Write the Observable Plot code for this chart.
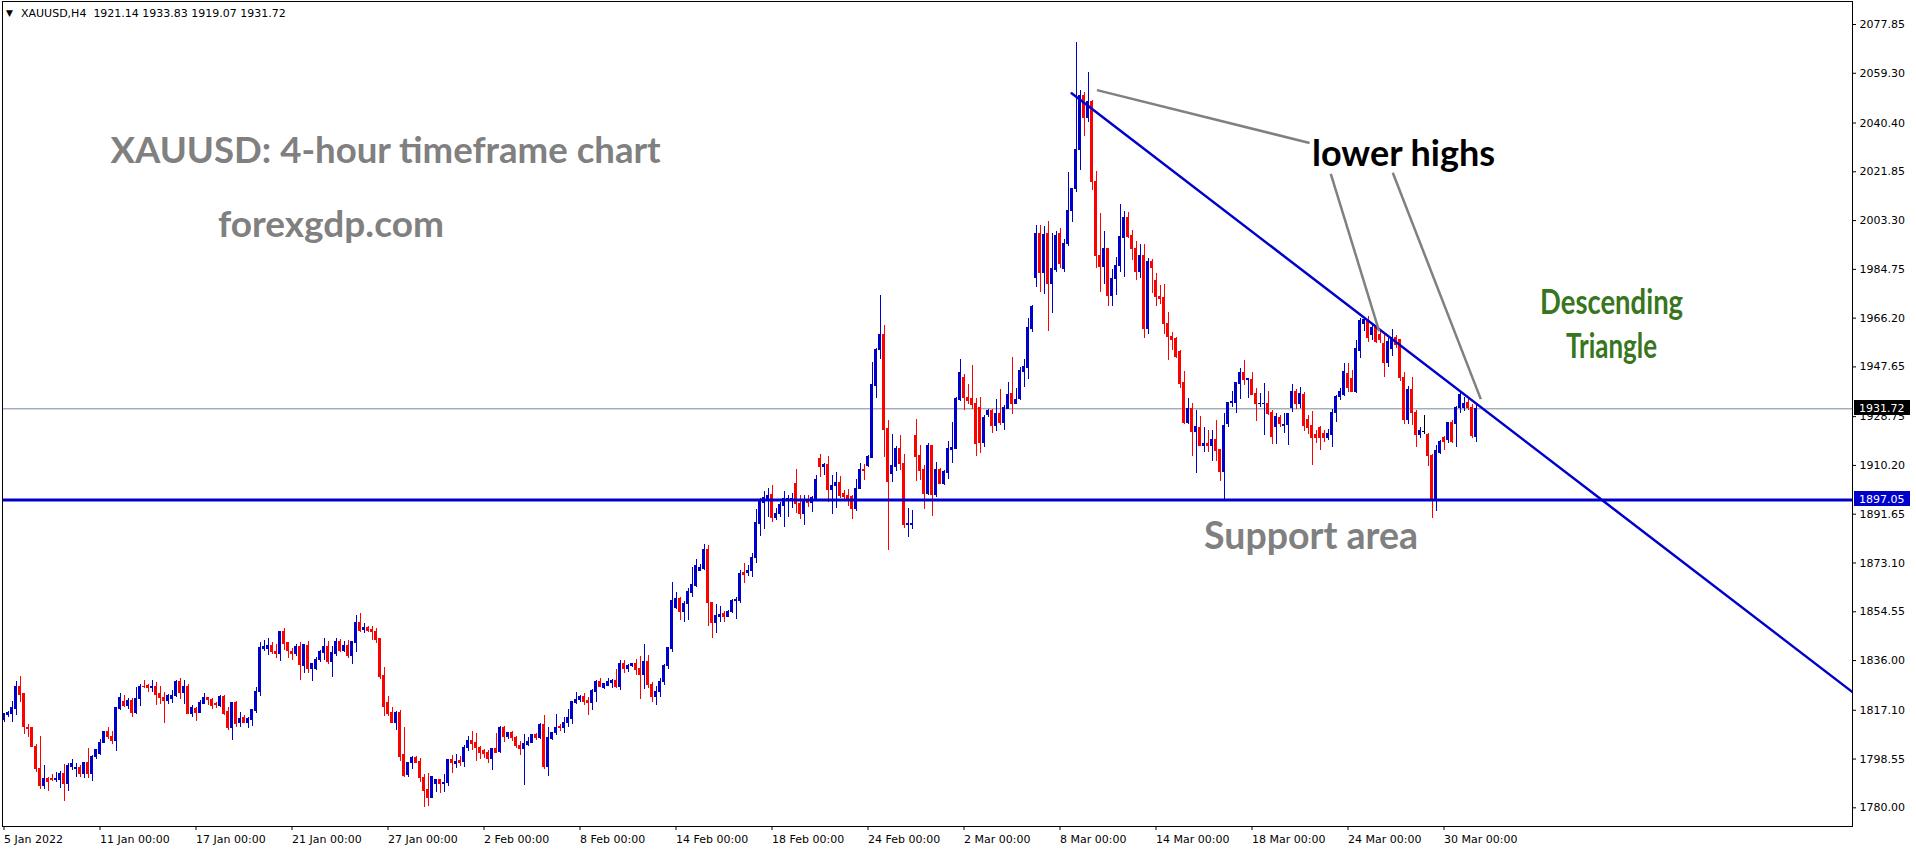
<!DOCTYPE html>
<html><head><meta charset="utf-8">
<script src="https://cdn.jsdelivr.net/npm/d3@7"></script>
<script src="https://cdn.jsdelivr.net/npm/@observablehq/plot@0.6"></script>
<style>
html,body{margin:0;padding:0;background:#fff;}
#chart{position:relative;width:1916px;height:850px;overflow:hidden}
svg{display:block}
</style></head><body><div id="chart"></div>
<script>
// ---- data (XAUUSD H4, 5 Jan 2022 – 31 Mar 2022), one entry per candle ----
const opens = [
1813.4,1815.2,1815.5,1817.5,1825.8,1823.1,1810.5,1810.2,1803.3,1794.9,
1788.2,1791.1,1791.1,1790.4,1790.5,1793.0,1789.0,1795.7,1794.7,1795.0,
1792.8,1796.9,1792.8,1799.3,1800.3,1804.6,1808.8,1807.1,1805.4,1817.4,
1820.4,1818.9,1820.8,1816.2,1821.3,1826.1,1826.3,1825.5,1826.1,1823.2,
1821.8,1820.7,1821.3,1822.5,1827.9,1823.6,1825.8,1815.6,1817.4,1816.0,
1819.4,1821.6,1821.1,1819.5,1818.7,1822.3,1816.4,1810.3,1819.7,1812.2,
1814.2,1812.2,1813.3,1816.8,1824.0,1840.3,1840.3,1841.7,1839.4,1838.4,
1846.7,1842.5,1839.4,1838.4,1841.3,1833.9,1841.6,1832.7,1832.7,1836.2,
1838.8,1841.3,1835.3,1838.4,1843.2,1839.8,1841.7,1837.9,1842.6,1850.1,
1847.5,1848.2,1847.8,1847.0,1844.1,1830.3,1820.0,1815.9,1812.4,1816.2,
1799.9,1792.3,1797.2,1798.8,1797.6,1791.5,1786.6,1783.9,1789.0,1790.4,
1789.0,1789.4,1798.1,1796.6,1797.7,1797.4,1802.7,1805.6,1804.6,1802.9,
1801.5,1800.8,1798.5,1802.2,1801.2,1810.3,1806.9,1808.6,1806.7,1803.4,
1802.2,1803.7,1804.6,1807.6,1806.5,1811.4,1795.5,1806.0,1808.4,1810.9,
1810.4,1812.4,1813.7,1819.8,1821.1,1822.3,1820.6,1819.8,1824.0,1827.7,
1825.6,1826.5,1827.4,1828.2,1825.9,1834.6,1832.7,1833.9,1834.6,1832.7,
1830.4,1835.3,1826.6,1822.0,1824.0,1828.0,1834.0,1840.3,1855.8,1859.5,
1854.3,1857.4,1861.6,1864.5,1870.2,1870.7,1878.2,1857.8,1850.2,1852.5,
1853.8,1852.5,1854.3,1858.6,1858.6,1869.4,1869.4,1869.9,1874.9,1888.0,
1895.8,1897.5,1899.0,1890.3,1891.8,1894.7,1897.0,1897.0,1903.3,1895.7,
1891.7,1897.1,1896.0,1897.4,1912.5,1909.5,1910.5,1900.9,1902.2,1903.7,
1899.5,1898.4,1898.1,1893.6,1901.3,1908.6,1909.9,1913.2,1940.3,1953.9,
1959.6,1924.2,1907.0,1909.5,1916.6,1910.8,1887.4,1887.4,1921.2,1913.7,
1908.3,1899.4,1917.4,1899.1,1908.6,1903.2,1907.4,1916.2,1916.5,1934.9,
1943.6,1936.0,1935.3,1933.4,1932.1,1918.7,1929.2,1930.8,1925.1,1929.6,
1926.3,1931.7,1937.2,1933.6,1935.3,1945.7,1947.2,1962.0,1981.4,1998.3,
1983.5,1998.3,1979.2,1984.6,1998.3,1984.9,1994.4,2006.8,2015.4,2030.2,
2050.6,2042.4,2048.5,2018.0,1990.0,1985.6,1992.3,1974.8,1981.1,1986.0,
1996.7,2004.1,1997.4,1992.6,1983.7,1990.0,1961.9,1987.4,1980.5,1974.4,
1973.8,1964.0,1959.2,1958.1,1953.5,1941.5,1926.3,1931.7,1922.9,1924.5,
1917.7,1918.3,1917.4,1920.0,1915.9,1907.6,1925.8,1933.9,1934.1,1941.2,
1945.3,1942.6,1942.5,1937.2,1933.4,1933.4,1933.6,1930.1,1924.8,1928.3,
1925.3,1925.6,1932.0,1938.1,1933.4,1937.1,1927.3,1925.2,1921.8,1924.6,
1922.3,1920.8,1921.8,1930.0,1936.1,1936.8,1944.9,1942.9,1938.1,1953.8,
1964.0,1965.3,1959.8,1962.5,1959.8,1956.5,1949.0,1954.4,1958.5,1957.8,
1943.6,1927.3,1938.8,1930.0,1921.8,1922.9,1921.8,1913.7,1897.4,1915.1,
1920.8,1919.8,1926.2,1925.9,1932.0,1932.0,1933.8,1932.0,1921.14];
const highs = [
1815.5,1816.7,1820.3,1828.0,1830.1,1823.3,1811.7,1810.2,1803.9,1807.1,
1796.1,1791.5,1792.5,1793.3,1793.8,1796.5,1797.0,1798.5,1797.0,1796.2,
1797.2,1802.6,1799.9,1802.3,1805.9,1809.2,1810.5,1809.0,1818.3,1823.5,
1822.7,1821.6,1821.4,1825.9,1827.0,1828.4,1827.0,1828.4,1827.7,1826.1,
1823.9,1823.2,1824.6,1828.4,1829.2,1828.3,1826.9,1818.9,1818.0,1820.8,
1823.5,1821.9,1821.7,1820.0,1822.7,1822.7,1818.2,1820.0,1820.3,1816.2,
1815.1,1814.5,1817.5,1825.8,1842.9,1843.6,1844.4,1842.9,1842.2,1847.0,
1848.2,1843.0,1840.5,1842.1,1842.9,1842.2,1843.2,1834.5,1837.3,1839.8,
1844.4,1843.2,1841.3,1844.3,1843.9,1843.2,1843.6,1843.4,1853.1,1853.9,
1850.1,1848.9,1848.9,1848.2,1844.4,1833.4,1822.3,1818.1,1816.6,1817.0,
1810.5,1797.4,1799.5,1799.5,1798.8,1792.7,1793.0,1791.9,1790.9,1790.4,
1792.7,1798.4,1799.9,1800.4,1799.6,1803.7,1807.1,1809.0,1808.4,1803.4,
1802.0,1801.8,1802.7,1808.4,1811.1,1811.1,1808.6,1809.1,1807.2,1805.4,
1808.0,1806.9,1807.6,1808.4,1812.2,1815.2,1810.7,1808.8,1815.5,1811.8,
1814.5,1817.5,1820.4,1824.0,1822.6,1823.5,1822.0,1825.1,1828.5,1829.0,
1826.9,1829.2,1828.9,1832.7,1836.0,1836.0,1834.6,1835.0,1836.4,1837.5,
1842.1,1837.9,1827.5,1826.0,1829.0,1834.5,1841.1,1865.8,1862.0,1859.9,
1858.6,1863.3,1871.5,1874.4,1872.5,1880.0,1879.8,1858.1,1857.3,1856.6,
1854.8,1855.0,1859.2,1860.1,1870.2,1873.0,1872.1,1876.6,1893.4,1897.5,
1900.3,1901.5,1902.6,1893.8,1896.2,1900.4,1898.9,1899.7,1908.6,1898.9,
1898.8,1898.6,1898.4,1906.4,1914.3,1910.8,1913.6,1906.4,1907.4,1905.9,
1900.8,1900.9,1898.6,1904.8,1910.9,1910.5,1914.0,1949.3,1954.8,1974.8,
1963.4,1927.2,1922.0,1917.5,1921.6,1914.3,1893.8,1893.1,1927.5,1917.6,
1910.3,1918.6,1917.9,1911.3,1909.0,1908.3,1919.2,1926.5,1935.9,1950.5,
1944.8,1941.0,1948.2,1935.8,1935.9,1929.1,1931.3,1931.3,1935.3,1939.1,
1933.0,1941.6,1951.2,1939.3,1947.6,1950.5,1965.9,1971.0,2001.4,2001.4,
2001.0,2002.8,1998.3,1999.0,2000.2,1996.0,2021.5,2015.6,2071.0,2052.8,
2052.1,2059.5,2049.0,2022.0,2006.1,1999.2,1992.6,1984.6,1989.4,2009.4,
2006.9,2006.3,1999.4,1995.5,1994.2,1994.2,1988.9,1988.5,1983.0,1978.6,
1978.9,1968.2,1960.9,1959.0,1953.9,1945.9,1935.5,1933.6,1931.1,1928.9,
1924.8,1923.4,1923.5,1927.3,1915.9,1930.1,1934.0,1938.4,1941.7,1947.2,
1950.1,1943.1,1945.7,1939.3,1937.6,1941.5,1938.4,1931.1,1930.1,1929.2,
1930.1,1930.1,1940.9,1939.2,1940.0,1938.1,1929.0,1930.7,1923.5,1925.0,
1923.5,1924.0,1931.4,1936.8,1939.5,1949.0,1949.0,1946.3,1957.8,1966.0,
1966.5,1966.7,1963.9,1964.6,1961.2,1959.8,1958.5,1961.9,1959.5,1957.8,
1945.6,1940.2,1943.6,1931.0,1924.5,1929.3,1922.4,1914.4,1917.8,1919.8,
1921.2,1926.6,1927.2,1932.7,1938.1,1936.0,1935.6,1933.4,1933.83];
const lows = [
1812.6,1814.2,1812.6,1815.0,1820.2,1808.0,1806.9,1803.1,1793.6,1786.8,
1787.1,1786.3,1790.0,1789.8,1787.5,1782.5,1786.3,1794.2,1791.5,1791.5,
1791.2,1791.2,1790.0,1798.2,1800.0,1804.3,1806.1,1804.1,1801.5,1817.1,
1818.2,1817.5,1814.5,1815.5,1818.7,1825.2,1823.9,1823.9,1819.0,1819.3,
1812.2,1819.3,1819.5,1821.9,1821.2,1819.4,1815.3,1814.4,1813.0,1816.0,
1819.2,1818.9,1817.5,1817.9,1818.3,1815.1,1809.4,1805.6,1810.5,1810.5,
1812.2,1810.2,1811.0,1816.0,1822.4,1839.6,1838.1,1838.3,1836.9,1835.8,
1839.9,1836.9,1836.0,1837.7,1828.4,1831.2,1830.9,1828.0,1832.2,1835.3,
1836.0,1834.5,1829.7,1837.7,1839.2,1839.2,1836.9,1834.6,1839.1,1846.7,
1846.4,1846.5,1843.6,1842.6,1828.9,1814.9,1814.9,1812.1,1809.4,1797.7,
1791.7,1791.7,1794.7,1797.0,1789.8,1780.3,1780.6,1783.7,1785.8,1785.6,
1785.9,1788.1,1793.2,1794.8,1795.8,1795.5,1801.4,1801.9,1797.7,1798.5,
1798.6,1797.0,1794.3,1800.8,1800.5,1805.0,1805.9,1805.4,1802.7,1800.0,
1788.6,1803.3,1804.5,1805.7,1806.0,1794.7,1792.0,1805.7,1807.6,1809.1,
1808.4,1810.5,1811.8,1819.3,1820.2,1819.0,1815.2,1817.1,1820.2,1825.6,
1825.1,1826.3,1825.5,1825.5,1824.7,1831.2,1831.6,1833.5,1830.4,1821.3,
1825.1,1825.5,1820.0,1819.0,1822.0,1826.5,1832.5,1839.1,1855.4,1851.2,
1850.6,1851.2,1860.1,1863.9,1869.9,1870.2,1849.0,1844.5,1846.4,1850.3,
1850.3,1852.2,1854.0,1851.5,1857.6,1865.2,1868.1,1867.7,1872.8,1883.2,
1886.0,1890.5,1888.4,1889.1,1890.3,1886.7,1890.5,1893.7,1891.8,1889.5,
1887.5,1894.3,1892.4,1896.9,1905.5,1906.4,1896.0,1891.4,1893.9,1897.6,
1896.5,1894.7,1889.8,1892.8,1900.9,1904.6,1909.5,1912.7,1935.8,1950.6,
1913.3,1878.0,1903.8,1908.0,1908.3,1886.1,1882.9,1885.7,1904.2,1904.5,
1893.6,1898.6,1890.8,1897.9,1902.8,1902.6,1904.7,1911.1,1916.1,1934.5,
1931.1,1933.2,1931.6,1913.7,1914.6,1917.1,1928.5,1922.2,1923.2,1925.4,
1923.4,1931.3,1929.6,1933.4,1934.9,1939.9,1942.7,1960.9,1978.0,1976.1,
1975.0,1961.2,1967.8,1983.5,1985.0,1983.7,1993.5,2002.7,2014.1,2022.3,
2035.4,2040.7,2014.7,1984.9,1976.1,1979.0,1970.8,1970.8,1974.8,1983.7,
1981.8,1996.4,1988.1,1980.5,1981.4,1958.6,1959.9,1975.4,1970.8,1971.3,
1959.9,1950.1,1953.9,1950.8,1939.6,1925.8,1925.8,1913.7,1907.0,1917.4,
1915.3,1915.3,1911.8,1911.8,1904.1,1897.4,1924.8,1932.3,1930.1,1935.3,
1940.6,1935.5,1936.8,1927.0,1932.3,1921.6,1929.2,1918.0,1918.0,1924.5,
1922.2,1917.8,1930.5,1931.5,1932.0,1923.2,1922.0,1910.3,1918.5,1915.7,
1919.0,1919.5,1917.1,1926.6,1935.0,1936.5,1938.1,1937.9,1937.5,1951.0,
1961.0,1957.1,1957.8,1956.5,1956.4,1943.6,1947.6,1951.7,1954.5,1942.2,
1925.9,1925.9,1925.2,1917.1,1920.5,1921.8,1909.6,1889.9,1892.6,1914.4,
1915.7,1918.4,1918.4,1917.1,1930.0,1930.7,1931.0,1920.5,1919.07];
const closes = [
1815.5,1816.0,1817.8,1825.9,1822.8,1810.7,1809.9,1803.1,1794.7,1788.2,
1791.1,1789.8,1790.5,1790.9,1793.0,1789.0,1796.0,1796.5,1795.0,1792.8,
1796.9,1792.8,1799.5,1801.8,1804.8,1808.8,1806.8,1805.4,1817.8,1821.6,
1818.9,1820.8,1816.0,1821.4,1826.1,1825.8,1825.6,1826.1,1822.8,1821.7,
1820.7,1822.7,1822.5,1827.9,1823.6,1825.8,1815.6,1817.8,1816.0,1819.7,
1821.6,1820.9,1818.9,1819.2,1822.3,1815.8,1810.3,1819.7,1811.8,1813.9,
1812.2,1813.7,1817.1,1824.2,1840.6,1841.1,1841.7,1839.2,1838.4,1846.7,
1842.2,1839.6,1838.4,1841.3,1834.3,1841.8,1832.9,1834.5,1836.3,1839.1,
1841.3,1835.3,1838.8,1843.2,1839.8,1841.7,1837.9,1843.0,1850.1,1847.4,
1848.2,1847.4,1846.7,1844.0,1829.9,1818.5,1815.5,1812.4,1816.2,1799.5,
1792.0,1797.0,1798.8,1797.2,1791.3,1786.3,1783.7,1791.9,1790.5,1789.0,
1789.6,1798.1,1797.0,1797.4,1797.2,1802.9,1805.6,1804.2,1802.7,1800.8,
1800.4,1798.5,1802.2,1800.8,1810.3,1806.9,1808.6,1806.4,1803.4,1802.2,
1804.1,1805.2,1807.6,1806.5,1811.4,1795.5,1806.4,1808.3,1810.5,1810.4,
1812.4,1814.1,1820.2,1820.9,1822.3,1820.2,1819.8,1824.4,1827.7,1825.9,
1826.9,1827.7,1828.2,1825.9,1834.6,1832.7,1834.1,1834.6,1832.3,1830.4,
1835.3,1826.6,1822.0,1824.0,1828.0,1834.0,1840.8,1858.8,1859.5,1854.4,
1857.6,1861.9,1864.9,1871.8,1871.3,1878.2,1857.8,1850.2,1853.0,1853.5,
1852.5,1854.4,1858.8,1859.1,1869.1,1868.7,1870.2,1875.1,1888.4,1896.1,
1897.9,1898.7,1890.3,1891.8,1895.0,1897.4,1897.4,1897.4,1895.5,1891.7,
1897.1,1896.0,1897.9,1904.5,1909.5,1910.5,1900.9,1902.4,1903.7,1898.4,
1898.1,1897.1,1893.7,1901.4,1908.6,1908.0,1913.5,1940.6,1953.9,1959.6,
1923.7,1903.8,1909.8,1916.6,1910.8,1887.4,1887.9,1888.1,1913.3,1908.0,
1899.4,1917.4,1899.1,1908.6,1903.2,1907.6,1916.6,1916.9,1935.3,1945.5,
1935.8,1934.6,1933.0,1918.4,1918.7,1928.2,1930.8,1925.1,1929.6,1926.3,
1932.1,1936.8,1933.6,1935.1,1946.0,1947.6,1962.3,1970.4,1998.3,1983.5,
1998.0,1979.2,1984.7,1997.6,1986.8,1994.4,2006.8,2015.4,2030.2,2050.6,
2042.2,2048.5,2017.9,1989.8,1985.6,1992.5,1974.8,1981.1,1986.2,1997.0,
2004.1,1997.0,1992.6,1983.7,1990.0,1961.9,1987.4,1985.1,1974.2,1973.3,
1964.0,1959.0,1958.0,1951.4,1941.0,1926.3,1931.7,1922.9,1924.8,1917.7,
1918.3,1917.4,1920.0,1915.6,1907.6,1925.0,1934.0,1934.5,1941.7,1945.3,
1942.8,1942.9,1937.1,1933.6,1933.6,1933.6,1929.8,1920.9,1928.6,1925.8,
1925.6,1929.8,1938.1,1933.4,1937.5,1925.2,1924.6,1920.5,1920.5,1920.5,
1920.8,1922.3,1930.0,1936.1,1938.1,1945.6,1939.5,1938.1,1954.4,1965.3,
1965.5,1958.5,1962.5,1957.1,1957.8,1949.0,1957.1,1958.5,1955.8,1943.6,
1927.3,1938.8,1930.0,1921.8,1923.2,1922.9,1913.7,1897.4,1915.7,1919.1,
1919.1,1926.2,1919.1,1932.0,1936.8,1933.4,1932.0,1921.2,1931.72];

// time axis: candle index of each label and its text
const xTickIndex = [0,24,48,72,96,120,144,168,192,216,240,264,288,312,336,360];
const xTickLabels = ["5 Jan 2022","11 Jan 00:00","17 Jan 00:00","21 Jan 00:00","27 Jan 00:00",
  "2 Feb 00:00","8 Feb 00:00","14 Feb 00:00","18 Feb 00:00","24 Feb 00:00",
  "2 Mar 00:00","8 Mar 00:00","14 Mar 00:00","18 Mar 00:00","24 Mar 00:00","30 Mar 00:00"];
// price axis labels
const yTicks = [2077.85,2059.30,2040.40,2021.85,2003.30,1984.75,1966.20,1947.65,1928.75,
  1910.20,1891.65,1873.10,1854.55,1836.00,1817.10,1798.55,1780.00];

const supportLevel = 1897.05;
const bidPrice = 1931.72;
// descending trend line (candle index, price)
const trendIdx = [266.9, 462.125];
const trendPrice = [2051.7, 1824.0];
// grey pointer lines for "lower highs" (index, price)
const ptrFromIdx = [273.25, 331.7, 347.2];
const ptrFromPrice = [2052.9, 2021.1, 2021.5];
const ptrToIdx = [326.4, 343.8, 369.2];
const ptrToPrice = [2032.8, 1961.2, 1935.4];

// ---- build ----
const bull = "#0000CD", bear = "#FF0000", lineBlue = "#0000CD";
const n = closes.length;
const candles = d3.range(n).map(i => ({i, o: opens[i], h: highs[i], l: lows[i], c: closes[i]}));
const col = d => d.c > d.o ? bull : d.c < d.o ? bear : "#000000";
const trend = trendIdx.map((i, k) => ({i, p: trendPrice[k]}));
const pointers = ptrFromIdx.map((v, k) => ({x1: v, y1: ptrFromPrice[k], x2: ptrToIdx[k], y2: ptrToPrice[k]}));
const xLab = new Map(xTickIndex.map((v, k) => [v, xTickLabels[k]]));

const annoFont = "Lato, 'Open Sans', sans-serif";
const note = (txt, x, y, anchor, size, fill) => Plot.text([txt], {x, y, text: d => d, textAnchor: anchor,
  lineAnchor: "bottom", fontSize: size, fontWeight: "bold", fontFamily: annoFont, fill});
const plot = Plot.plot({
  width: 1916, height: 850,
  marginLeft: 2, marginRight: 64, marginTop: 1, marginBottom: 24,
  x: {type: "linear", domain: [-0.375, 462.125], label: null},
  y: {type: "linear", domain: [1772.9, 2086.6], label: null},
  style: {fontFamily: "'DejaVu Sans', sans-serif", fontSize: "11px", background: "#fff", color: "#000", overflow: "visible"},
  marks: [
    Plot.ruleY([bidPrice], {stroke: "#778899", strokeWidth: 1}),
    Plot.ruleX(candles, {x: "i", y1: "l", y2: "h", stroke: col, strokeWidth: 1, shapeRendering: "crispEdges"}),
    Plot.rect(candles, {x1: d => d.i - 0.375, x2: d => d.i + 0.375,
      y1: d => Math.min(d.o, d.c), y2: d => Math.max(d.o, d.c),
      fill: col, insetTop: -0.5, insetBottom: -0.5, shapeRendering: "crispEdges"}),
    Plot.ruleY([supportLevel], {stroke: lineBlue, strokeWidth: 3}),
    Plot.line(trend, {x: "i", y: "p", stroke: lineBlue, strokeWidth: 2.5, clip: true}),
    Plot.link(pointers, {x1: "x1", y1: "y1", x2: "x2", y2: "y2", stroke: "#808080", strokeWidth: 2.5}),
    note("XAUUSD: 4-hour timeframe chart", 26.6, 2025.2, "start", 36.6, "#808080"),
    note("forexgdp.com", 53.5, 1997.2, "start", 37, "#808080"),
    note("lower highs", 327.0, 2024.0, "start", 36, "#000"),
    note("Descending", 401.9, 1967.9, "middle", 34, "#38761d"),
    note("Triangle", 401.9, 1951.2, "middle", 34, "#38761d"),
    note("Support area", 300.0, 1878.6, "start", 37.5, "#808080"),
    Plot.frame({stroke: "#000"}),
    Plot.axisX({ticks: xTickIndex, tickFormat: d => xLab.get(d), textAnchor: "start", tickSize: 4, tickPadding: 5, fontSize: 11}),
    Plot.axisY({anchor: "right", ticks: yTicks, tickFormat: d => d.toFixed(2), tickSize: 3, tickPadding: 4, fontSize: 11})
  ]
});
document.getElementById("chart").appendChild(plot);

const svg = d3.select(plot);
// the green label is set in a narrower face in the reference: condense it to its measured width
const condensed = new Map([["Descending", 143], ["Triangle", 91]]);
svg.selectAll("text").each(function() {
  const w = condensed.get(this.textContent);
  if (w) d3.select(this).attr("textLength", w).attr("lengthAdjust", "spacingAndGlyphs");
});

// price tags on the axis and the header line
const sy = plot.scale("y");
function tag(value, bg) {
  const y = Math.round(sy.apply(value));
  const g = svg.append("g").attr("text-anchor", "start");
  g.append("rect").attr("x", 1854).attr("y", y - 8).attr("width", 56).attr("height", 15).attr("fill", bg);
  g.append("text").attr("x", 1859).attr("y", y + 4).attr("fill", "#fff").attr("text-anchor", "start")
    .attr("font-family", "'DejaVu Sans', sans-serif").attr("font-size", 11).text(value.toFixed(2));
}
tag(bidPrice, "#000");
tag(supportLevel, lineBlue);
const last = n - 1;
const head = svg.append("g").attr("text-anchor", "start");
head.append("text").attr("x", 6).attr("y", 16).attr("font-size", 9).attr("text-anchor", "start")
  .attr("font-family", "'DejaVu Sans', sans-serif").text("▼");
head.append("text").attr("x", 21).attr("y", 17).attr("font-size", 11).attr("text-anchor", "start")
  .attr("font-family", "'DejaVu Sans', sans-serif").style("white-space", "pre")
  .text(`XAUUSD,H4  ${opens[last].toFixed(2)} ${highs[last].toFixed(2)} ${lows[last].toFixed(2)} ${closes[last].toFixed(2)}`);
</script>
</body></html>
